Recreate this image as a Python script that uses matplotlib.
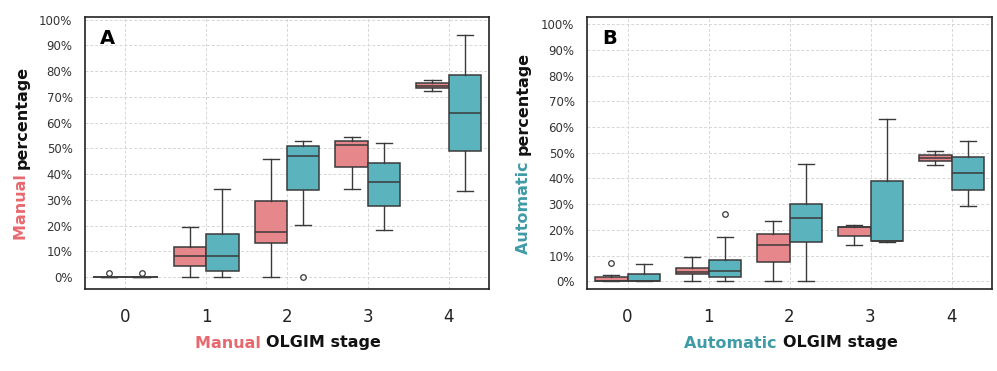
import matplotlib
matplotlib.use("Agg")
import matplotlib.pyplot as plt
import numpy as np

stages = [0, 1, 2, 3, 4]
tick_labels = ["0", "1", "2", "3", "4"]
y_ticks = [0, 10, 20, 30, 40, 50, 60, 70, 80, 90, 100]

# Panel A (Manual) — [whislo, q1, med, q3, whishi]
A_pink_lo = [0, 0, 0, 34.1, 72.3]
A_pink_q1 = [0, 4.4, 13.2, 42.8, 73.3]
A_pink_med = [0, 8.3, 17.5, 51.2, 74.3]
A_pink_q3 = [0, 11.6, 29.4, 52.8, 75.2]
A_pink_hi = [0, 19.4, 45.9, 54.5, 76.4]
A_pink_fl = [[1.5], [], [], [], []]

A_teal_lo = [0, 0, 20.1, 18.5, 33.5]
A_teal_q1 = [0, 2.2, 33.9, 27.6, 48.8]
A_teal_med = [0, 8.4, 47.1, 36.9, 63.7]
A_teal_q3 = [0, 16.6, 50.8, 44.5, 78.6]
A_teal_hi = [0, 34.1, 53.0, 52.0, 94.1]
A_teal_fl = [[1.5], [], [0], [], []]

# Panel B (Automatic)
B_pink_lo = [0, 0, 0, 14.0, 45.1]
B_pink_q1 = [0, 2.7, 7.5, 17.7, 46.6]
B_pink_med = [0.3, 3.8, 14.1, 21.2, 48.0]
B_pink_q3 = [1.7, 5.3, 18.4, 21.3, 49.3]
B_pink_hi = [2.5, 9.3, 23.3, 22.0, 50.8]
B_pink_fl = [[7.0], [], [], [], []]

B_teal_lo = [0, 0, 0, 15.3, 29.2]
B_teal_q1 = [0, 1.7, 15.3, 15.5, 35.6]
B_teal_med = [0, 4.1, 24.7, 15.7, 42.0]
B_teal_q3 = [2.8, 8.2, 30.0, 39.1, 48.3]
B_teal_hi = [6.9, 17.2, 45.8, 63.1, 54.7]
B_teal_fl = [[], [26.0], [], [], []]

PINK = "#E6878C"
TEAL = "#5BB3BE"
PINK_TXT = "#E8686F"
TEAL_TXT = "#3F9BA6"
EDGE = "#3a3a3a"


def stats(lo, q1, med, q3, hi, fl):
    return [dict(whislo=a, q1=b, med=c, q3=d, whishi=e, fliers=f)
            for a, b, c, d, e, f in zip(lo, q1, med, q3, hi, fl)]


fig = plt.figure(figsize=(9.97, 3.71), dpi=100)
axA = fig.add_axes([85/997, 1-289/371, (489-85)/997, (289-17)/371])
axB = fig.add_axes([587/997, 1-289/371, (992-587)/997, (289-17)/371])


def draw(ax, pink, teal, ylim, letter):
    x = np.array(stages, dtype=float)
    for st, off, col in [(pink, -0.2, PINK), (teal, 0.2, TEAL)]:
        ax.bxp(st, positions=x + off, widths=0.4, patch_artist=True,
               capwidths=0.2, manage_ticks=False,
               boxprops=dict(facecolor=col, edgecolor=EDGE, linewidth=1.1),
               medianprops=dict(color=EDGE, linewidth=1.1),
               whiskerprops=dict(color=EDGE, linewidth=1.0),
               capprops=dict(color=EDGE, linewidth=1.0),
               flierprops=dict(marker="o", markersize=4, markerfacecolor="none",
                               markeredgecolor=EDGE, markeredgewidth=0.9))
    ax.set_xlim(-0.5, 4.5)
    ax.set_ylim(*ylim)
    ax.set_xticks(x)
    ax.set_xticklabels(tick_labels, fontsize=12, color="#222222")
    ax.set_yticks(y_ticks)
    ax.set_yticklabels([f"{v}%" for v in y_ticks], fontsize=8.5, color="#333333")
    ax.tick_params(axis="both", length=0)
    ax.tick_params(axis="x", pad=14)
    ax.tick_params(axis="y", pad=9)
    ax.grid(True, linestyle=(0, (3, 2)), color="#d6d6d6", linewidth=0.7)
    ax.set_axisbelow(True)
    for s in ax.spines.values():
        s.set_color("#222222")
        s.set_linewidth(1.2)
    ax.text(0.055, 0.92, letter, transform=ax.transAxes, fontsize=14,
            fontweight="bold", ha="center", va="center", color="black")


draw(axA, stats(A_pink_lo, A_pink_q1, A_pink_med, A_pink_q3, A_pink_hi, A_pink_fl),
     stats(A_teal_lo, A_teal_q1, A_teal_med, A_teal_q3, A_teal_hi, A_teal_fl),
     (-4.6, 101), "A")
draw(axB, stats(B_pink_lo, B_pink_q1, B_pink_med, B_pink_q3, B_pink_hi, B_pink_fl),
     stats(B_teal_lo, B_teal_q1, B_teal_med, B_teal_q3, B_teal_hi, B_teal_fl),
     (-3.0, 102.8), "B")

LABEL_FS = 11.5
fam = "DejaVu Sans"

fig.canvas.draw()
r = fig.canvas.get_renderer()
W, H = 997, 371


def xlabel(cx, cy, w1, c1, w2):
    t1 = fig.text(0, 0, w1 + " ", color=c1, fontsize=LABEL_FS, fontweight="bold", family=fam,
                  ha="left", va="center")
    t2 = fig.text(0, 0, w2, color="#111111", fontsize=LABEL_FS, fontweight="bold", family=fam,
                  ha="left", va="center")
    b1 = t1.get_window_extent(r)
    b2 = t2.get_window_extent(r)
    tot = b1.width + b2.width
    x0 = cx - tot / 2
    t1.set_position((x0 / W, 1 - cy / H))
    t2.set_position(((x0 + b1.width) / W, 1 - cy / H))


def ylabel(cx, cy, w1, c1, w2):
    t1 = fig.text(0, 0, w1 + " ", color=c1, fontsize=LABEL_FS, fontweight="bold", family=fam,
                  ha="center", va="bottom", rotation=90)
    t2 = fig.text(0, 0, w2, color="#111111", fontsize=LABEL_FS, fontweight="bold", family=fam,
                  ha="center", va="bottom", rotation=90)
    b1 = t1.get_window_extent(r)
    b2 = t2.get_window_extent(r)
    tot = b1.height + b2.height
    y0 = (H - cy) - tot / 2
    t1.set_position((cx / W, y0 / H))
    t2.set_position((cx / W, (y0 + b1.height) / H))


xlabel(288, 343, "Manual", PINK_TXT, "OLGIM stage")
xlabel(791, 343, "Automatic", TEAL_TXT, "OLGIM stage")
ylabel(22, 153, "Manual", PINK_TXT, "percentage")
ylabel(523, 153, "Automatic", TEAL_TXT, "percentage")

fig.savefig("out.png", dpi=100)
